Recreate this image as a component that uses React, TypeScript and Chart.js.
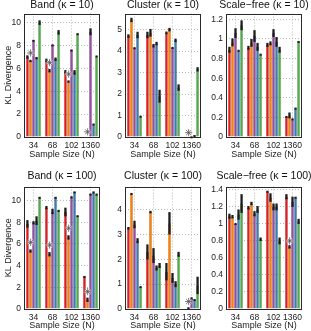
import React, { useEffect, useRef } from 'react';
import { Chart, registerables } from 'chart.js';

Chart.register(...registerables);

const FONT = '"Liberation Sans", Arial, Helvetica, sans-serif';

// ---------- data ----------
const sampleSizes = ['34', '68', '102', '1360'];
const methodColors = ['#e41a1c', '#ff7f00', '#984ea3', '#377eb8', '#4daf4a'];

// Band (κ = 10): rows = methods (red, orange, purple, blue, green), cols = sample sizes
const bandK10Means = [
  [7.0, 6.7, 5.7, 0],
  [6.65, 5.8, 4.85, 0],
  [8.45, 8.05, 7.6, 9.2],
  [6.9, 6.8, 5.65, 1.1],
  [10.0, 9.15, 9.0, 7.05],
];
const bandK10Errs = [
  [0.15, 0.15, 0.15, 0],
  [0.1, 0.15, 0.1, 0],
  [0.05, 0.05, 0.05, 0.3],
  [0.1, 0.15, 0.2, 0.08],
  [0.2, 0.2, 0.08, 0.08],
];
const bandK10Stars = [7.35, 6.5, 5.5, 0.45];

// Cluster (κ = 10)
const clusterK10Means = [
  [4.7, 4.75, 4.85, 0],
  [5.45, 4.85, 5.0, 0],
  [4.15, 4.25, 4.15, 0.02],
  [4.75, 4.35, 4.5, 0.07],
  [0.95, 1.9, 2.3, 3.15],
];
const clusterK10Errs = [
  [0.08, 0.15, 0.06, 0],
  [0.1, 0.18, 0.08, 0],
  [0.03, 0.08, 0.04, 0.01],
  [0.15, 0.08, 0.08, 0.02],
  [0.04, 0.3, 0.15, 0.1],
];
const clusterK10Stars = [null, null, null, 0.2];

// Scale-free (κ = 10)
const scaleFreeK10Means = [
  [0.89, 0.91, 0.94, 0.205],
  [0.965, 0.96, 0.955, 0.22],
  [1.06, 1.03, 1.06, 0.18],
  [0.88, 0.92, 0.97, 0.29],
  [1.14, 0.84, 0.89, 0.97],
];
const scaleFreeK10Errs = [
  [0.03, 0.02, 0.02, 0.01],
  [0.04, 0.04, 0.02, 0.03],
  [0.05, 0.06, 0.04, 0.01],
  [0.01, 0.04, 0.05, 0.01],
  [0.05, 0.01, 0.03, 0.01],
];
const scaleFreeK10Stars = [null, null, null, null];

// Band (κ = 100)
const bandK100Means = [
  [7.85, 9.35, 8.95, 3.0],
  [5.35, 5.05, 6.6, 0.85],
  [7.95, 9.0, 10.3, 10.6],
  [8.15, 10.3, 10.8, 10.75],
  [10.3, 9.05, 8.6, 10.55],
];
const bandK100Errs = [
  [0.35, 0.15, 0.4, 0.05],
  [0.15, 0.2, 0.2, 0.2],
  [0.15, 0.25, 0.1, 0.05],
  [0.4, 0.05, 0.05, 0.1],
  [0.05, 0.1, 0.05, 0.1],
];
const bandK100Stars = [6.15, 5.9, 7.45, 1.6];

// Cluster (κ = 100)
const clusterK100Means = [
  [3.25, 2.3, 1.5, 0],
  [4.65, 3.9, 3.45, 0.05],
  [3.4, 2.15, 1.25, 0.42],
  [2.75, 1.65, 1.0, 0.37],
  [0.9, 1.75, 2.2, 0.95],
];
const clusterK100Errs = [
  [0.05, 0.3, 0.35, 0],
  [0.02, 0.05, 0.45, 0.02],
  [0.15, 0.3, 0.2, 0.05],
  [0.1, 0.1, 0.12, 0.03],
  [0.02, 0.1, 0.1, 0.35],
];
const clusterK100Stars = [null, null, null, 0.3];

// Scale-free (κ = 100)
const scaleFreeK100Means = [
  [1.09, 1.19, 1.38, 1.32],
  [1.085, 1.24, 1.31, 0.73],
  [1.0, 1.12, 1.2, 1.26],
  [1.11, 1.17, 1.2, 1.31],
  [1.24, 0.82, 0.8, 1.03],
];
const scaleFreeK100Errs = [
  [0.03, 0.02, 0.01, 0.03],
  [0.02, 0.02, 0.05, 0.02],
  [0.01, 0.03, 0.04, 0.06],
  [0.06, 0.04, 0.04, 0.01],
  [0.11, 0.02, 0.04, 0.03],
];
const scaleFreeK100Stars = [null, null, null, 0.8];

const panelTitles = [
  'Band (κ = 10)', 'Cluster (κ = 10)', 'Scale−free (κ = 10)',
  'Band (κ = 100)', 'Cluster (κ = 100)', 'Scale−free (κ = 100)',
];
const yMaxes = [10.8, 5.75, 1.26, 11.3, 4.93, 1.44];
const ySteps = [2, 1, 0.2, 2, 1, 0.2];

const panelData = [
  { means: bandK10Means, errs: bandK10Errs, stars: bandK10Stars },
  { means: clusterK10Means, errs: clusterK10Errs, stars: clusterK10Stars },
  { means: scaleFreeK10Means, errs: scaleFreeK10Errs, stars: scaleFreeK10Stars },
  { means: bandK100Means, errs: bandK100Errs, stars: bandK100Stars },
  { means: clusterK100Means, errs: clusterK100Errs, stars: clusterK100Stars },
  { means: scaleFreeK100Means, errs: scaleFreeK100Errs, stars: scaleFreeK100Stars },
];

// ---------- layout ----------
const SIDE_W = 24;          // reserved width left and right of each plot area
const PLOT_W = 76;
const CANVAS_W = SIDE_W * 2 + PLOT_W;
const COL_STEP = 101;
const ROWS = [
  { top: 0, height: 165, titlePad: { top: 0, bottom: 3 }, xAxisH: 28, xTitlePadBottom: 5 },
  { top: 165, height: 166, titlePad: { top: 6, bottom: 5 }, xAxisH: 22, xTitlePadBottom: 0 },
];
// star marker offset within a group, as a fraction of the category width
const STAR_OFFSET = -0.15;
const N_METHODS = 5;

const errorBarPlugin = {
  id: 'errbars',
  afterDatasetDraw(chart: any, args: any) {
    const cfg = chart.options.plugins.errbars;
    if (!cfg || args.index >= cfg.errs.length) return;
    const errs = cfg.errs[args.index];
    const ds = chart.data.datasets[args.index];
    const y = chart.scales.y;
    const ctx = chart.ctx;
    ctx.save();
    ctx.fillStyle = '#1c1c1c';
    args.meta.data.forEach((bar: any, i: number) => {
      const v = ds.data[i];
      const e = errs[i];
      if (!e || v == null) return;
      const top = y.getPixelForValue(v + e);
      const bot = y.getPixelForValue(Math.max(0, v - e));
      let h = bot - top;
      if (h < 2) h = 2;
      const w = Math.max(1.5, bar.width * 0.75);
      ctx.fillRect(bar.x - w / 2, top, w, h);
    });
    ctx.restore();
  },
};

const starShiftPlugin = {
  id: 'starshift',
  afterDatasetsUpdate(chart: any) {
    const x = chart.scales.x;
    const catW = x.getPixelForValue(1) - x.getPixelForValue(0);
    chart.data.datasets.forEach((ds: any, di: number) => {
      if (!ds.isStar) return;
      chart.getDatasetMeta(di).data.forEach((pt: any) => {
        pt.x += STAR_OFFSET * catW;
      });
    });
  },
};

const boxPlugin = {
  id: 'axbox',
  afterDraw(chart: any) {
    const { left, top, right, bottom } = chart.chartArea;
    const ctx = chart.ctx;
    ctx.save();
    ctx.strokeStyle = '#2a2a2a';
    ctx.lineWidth = 1;
    ctx.strokeRect(Math.round(left) + 0.5, Math.round(top) + 0.5, Math.round(right - left) - 1, Math.round(bottom - top) - 1);
    ctx.restore();
  },
};

function Panel({ index }: { index: number }) {
  const ref = useRef<HTMLCanvasElement | null>(null);
  const row = ROWS[Math.floor(index / 3)];
  const col = index % 3;
  const left = col * COL_STEP;

  useEffect(() => {
    const { means, errs, stars } = panelData[index];
    const datasets: any[] = means.map((m, k) => ({
      type: 'bar',
      data: m,
      backgroundColor: methodColors[k],
      borderColor: 'rgba(40,20,20,0.55)',
      borderWidth: 0.5,
      borderSkipped: 'start',
      barPercentage: 1,
      categoryPercentage: 0.8,
      order: 10,
    }));
    datasets.push({
      type: 'line',
      isStar: true,
      data: stars,
      showLine: false,
      pointStyle: 'star',
      pointRadius: 3.6,
      pointBorderColor: 'rgba(255,255,255,0.75)',
      pointBorderWidth: 1.6,
      pointBackgroundColor: 'transparent',
      order: 2,
    });
    datasets.push({
      type: 'line',
      isStar: true,
      data: stars,
      showLine: false,
      pointStyle: 'star',
      pointRadius: 3.6,
      pointBorderColor: '#555',
      pointBorderWidth: 0.8,
      pointBackgroundColor: 'transparent',
      order: 1,
    });

    const chart = new Chart(ref.current as HTMLCanvasElement, {
      type: 'bar',
      data: { labels: sampleSizes, datasets },
      plugins: [starShiftPlugin, errorBarPlugin, boxPlugin],
      options: {
        animation: false,
        responsive: false,
        devicePixelRatio: 1,
        layout: { padding: 0 },
        plugins: {
          legend: { display: false },
          tooltip: { enabled: false },
          title: {
            display: true,
            text: panelTitles[index],
            color: '#111',
            font: { family: FONT, size: 10.5, weight: 'normal', lineHeight: 1 },
            padding: row.titlePad,
          },
          errbars: { errs: errs.slice(0, N_METHODS) },
        } as any,
        scales: {
          x: {
            type: 'category',
            offset: true,
            grid: { display: true, offset: false, color: '#b8b8b8', drawTicks: false },
            border: { display: false, dash: [1, 2] },
            ticks: { color: '#222', font: { family: FONT, size: 8.5 }, padding: 4, maxRotation: 0, autoSkip: false },
            title: {
              display: true,
              text: 'Sample Size (N)',
              color: '#222',
              font: { family: FONT, size: 9 },
              padding: { top: 0, bottom: row.xTitlePadBottom },
            },
            afterFit: (s: any) => { s.height = row.xAxisH; },
          },
          y: {
            type: 'linear',
            position: 'left',
            min: 0,
            max: yMaxes[index],
            grid: { color: '#b8b8b8', drawTicks: false },
            border: { display: false, dash: [1, 2] },
            ticks: {
              stepSize: ySteps[index],
              includeBounds: false,
              color: '#222',
              font: { family: FONT, size: 8.5 },
              padding: 3,
              callback: (v: any) => String(+Number(v).toFixed(2)),
            },
            title: {
              display: col === 0,
              text: 'KL Divergence',
              color: '#222',
              font: { family: FONT, size: 9 },
              padding: { top: 3, bottom: 0 },
            },
            afterFit: (s: any) => { s.width = SIDE_W; },
          },
          ySpacer: {
            type: 'linear',
            position: 'right',
            display: true,
            grid: { display: false, drawTicks: false },
            border: { display: false },
            ticks: { display: false },
            afterFit: (s: any) => { s.width = SIDE_W; },
          },
        } as any,
      },
    } as any);
    return () => chart.destroy();
  }, [index]);

  return (
    <canvas
      ref={ref}
      width={CANVAS_W}
      height={row.height}
      style={{ position: 'absolute', left, top: row.top, width: CANVAS_W, height: row.height }}
    />
  );
}

export default function App() {
  return (
    <div style={{ position: 'absolute', left: 0, top: 0, width: 311, height: 331, background: '#fff', overflow: 'hidden' }}>
      {[0, 1, 2, 3, 4, 5].map((i) => (
        <Panel key={i} index={i} />
      ))}
    </div>
  );
}
